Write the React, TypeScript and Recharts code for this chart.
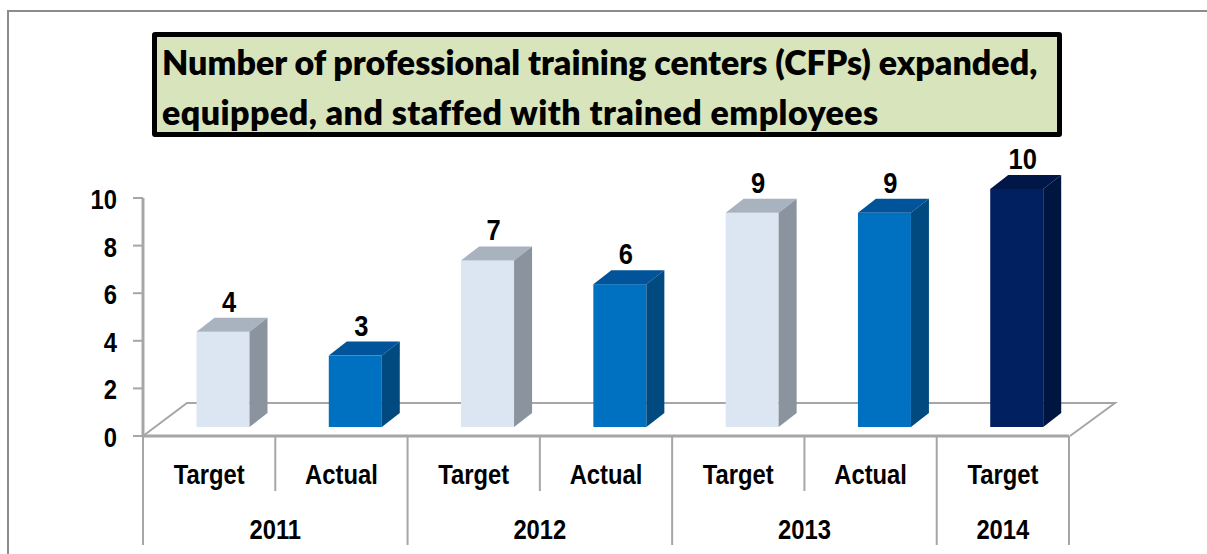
import { Bar, BarChart, Customized, LabelList, XAxis, YAxis } from "recharts";

const SERIES_LABELS = ["Target", "Actual", "Target", "Actual", "Target", "Actual", "Target"];
const SERIES_VALUES = [4, 3, 7, 6, 9, 9, 10];
const BAR_KINDS = ["target", "actual", "target", "actual", "target", "actual", "final"];
const YEARS = ["2011", "2012", "2013", "2014"];
const YEAR_SPANS = [2, 2, 2, 1];
const Y_TICKS = [0, 2, 4, 6, 8, 10];

const COLORS: Record<string, { front: string; top: string; side: string }> = {
  target: { front: "#dce6f2", top: "#a9b3c0", side: "#8b949e" },
  actual: { front: "#0070c0", top: "#01539a", side: "#014a80" },
  final: { front: "#002060", top: "#001748", side: "#001540" },
};

const chartData = SERIES_VALUES.map((value, i) => ({
  id: i,
  value,
  kind: BAR_KINDS[i],
}));

const WIDTH = 1207;
const HEIGHT = 554;
const AXIS_COLOR = "#a6a6a6";
const LABEL_FONT = "'Liberation Sans', sans-serif";
const NARROW = 0.85; // no narrow font installed, squeeze the text instead

// the 3D look: front face sits above the baseline, with a top and side face
const DEPTH_X = 18;
const DEPTH_Y = 14;
const LIFT = 9;
const SHIFT = 13.5;

function NarrowText({ x, y, size = 28, anchor = "middle", children }: any) {
  return (
    <text
      transform={`translate(${x},${y}) scale(${NARROW},1)`}
      textAnchor={anchor}
      fontFamily={LABEL_FONT}
      fontWeight={700}
      fontSize={size}
      fill="#000"
    >
      {children}
    </text>
  );
}

function Box3D(props: any) {
  const { x, y, width, height, payload } = props;
  const c = COLORS[payload.kind];
  const l = x + SHIFT;
  const r = l + width;
  const t = y - LIFT;
  const b = y + height - LIFT;
  return (
    <g>
      <rect x={l} y={t} width={width} height={height} fill={c.front} />
      <polygon
        points={`${l},${t} ${l + DEPTH_X},${t - DEPTH_Y} ${r + DEPTH_X},${t - DEPTH_Y} ${r},${t}`}
        fill={c.top}
      />
      <polygon
        points={`${r},${t} ${r + DEPTH_X},${t - DEPTH_Y} ${r + DEPTH_X},${b - DEPTH_Y} ${r},${b}`}
        fill={c.side}
      />
    </g>
  );
}

function ValueLabel(props: any) {
  const { x, y, width, value } = props;
  return (
    <NarrowText x={x + SHIFT + width / 2 + 6} y={y - LIFT - 20} size={30}>
      {value}
    </NarrowText>
  );
}

function Floor() {
  return (
    <polyline
      points="143,436 187,403 1115,403 1070,436"
      fill="none"
      stroke={AXIS_COLOR}
      strokeWidth={2}
    />
  );
}

function YTick(props: any) {
  const { x, y, payload } = props;
  return (
    <NarrowText x={x - 14} y={y + 11} anchor="end">
      {payload.value}
    </NarrowText>
  );
}

function TwoLevelTick(props: any) {
  const { x, index } = props;
  const step = 926 / SERIES_VALUES.length;
  const left = x - step / 2;
  const right = x + step / 2;
  let start = 0;
  let yearEl = null;
  const lines = [];
  YEARS.forEach((year, i) => {
    const span = YEAR_SPANS[i];
    if (index === start) {
      yearEl = (
        <NarrowText x={left + (span * step) / 2} y={539}>
          {year}
        </NarrowText>
      );
      lines.push(<line key="a" x1={left} x2={left} y1={436} y2={545} stroke={AXIS_COLOR} strokeWidth={2} />);
    } else if (index > start && index < start + span) {
      lines.push(<line key="b" x1={left} x2={left} y1={436} y2={491} stroke={AXIS_COLOR} strokeWidth={2} />);
    }
    start += span;
  });
  if (index === SERIES_VALUES.length - 1) {
    lines.push(<line key="c" x1={right} x2={right} y1={436} y2={545} stroke={AXIS_COLOR} strokeWidth={2} />);
  }
  return (
    <g>
      {lines}
      <NarrowText x={x} y={484}>
        {SERIES_LABELS[index]}
      </NarrowText>
      {yearEl}
    </g>
  );
}

export default function App() {
  return (
    <div style={{ position: "absolute", left: 0, top: 0, width: WIDTH, height: HEIGHT, background: "#fff", overflow: "hidden" }}>
      <div
        style={{
          position: "absolute",
          left: 7,
          top: 10,
          width: 1300,
          height: 700,
          border: "2px solid #8c8c8c",
        }}
      />
      <BarChart
        width={WIDTH}
        height={HEIGHT}
        data={chartData}
        margin={{ top: 198, right: 138, bottom: 0, left: 0 }}
        barCategoryGap="30%"
        style={{ position: "absolute", left: 0, top: 0 }}
      >
        <Customized component={Floor} />
        <XAxis
          dataKey="id"
          axisLine={{ stroke: AXIS_COLOR, strokeWidth: 3 }}
          tickLine={false}
          height={118}
          interval={0}
          tick={<TwoLevelTick />}
        />
        <YAxis
          domain={[0, 10]}
          ticks={Y_TICKS}
          interval={0}
          width={143}
          axisLine={{ stroke: AXIS_COLOR, strokeWidth: 3 }}
          tickLine={{ stroke: AXIS_COLOR, strokeWidth: 2 }}
          tickSize={10}
          tick={<YTick />}
        />
        <Bar dataKey="value" barSize={53} shape={<Box3D />} isAnimationActive={false}>
          <LabelList dataKey="value" content={<ValueLabel />} />
        </Bar>
      </BarChart>
      <div
        style={{
          position: "absolute",
          left: 152,
          top: 32,
          width: 900,
          height: 95,
          border: "5px solid #000",
          borderRadius: 3,
          background: "#d8e4bc",
          fontFamily: "Lato, sans-serif",
          fontWeight: 800,
          fontSize: 34,
          lineHeight: "50px",
          color: "#000",
          whiteSpace: "nowrap",
        }}
      >
        <div style={{ marginLeft: 5 }}>Number of professional training centers (CFPs) expanded,</div>
        <div style={{ marginLeft: 5, letterSpacing: 0.43 }}>equipped, and staffed with trained employees</div>
      </div>
    </div>
  );
}
